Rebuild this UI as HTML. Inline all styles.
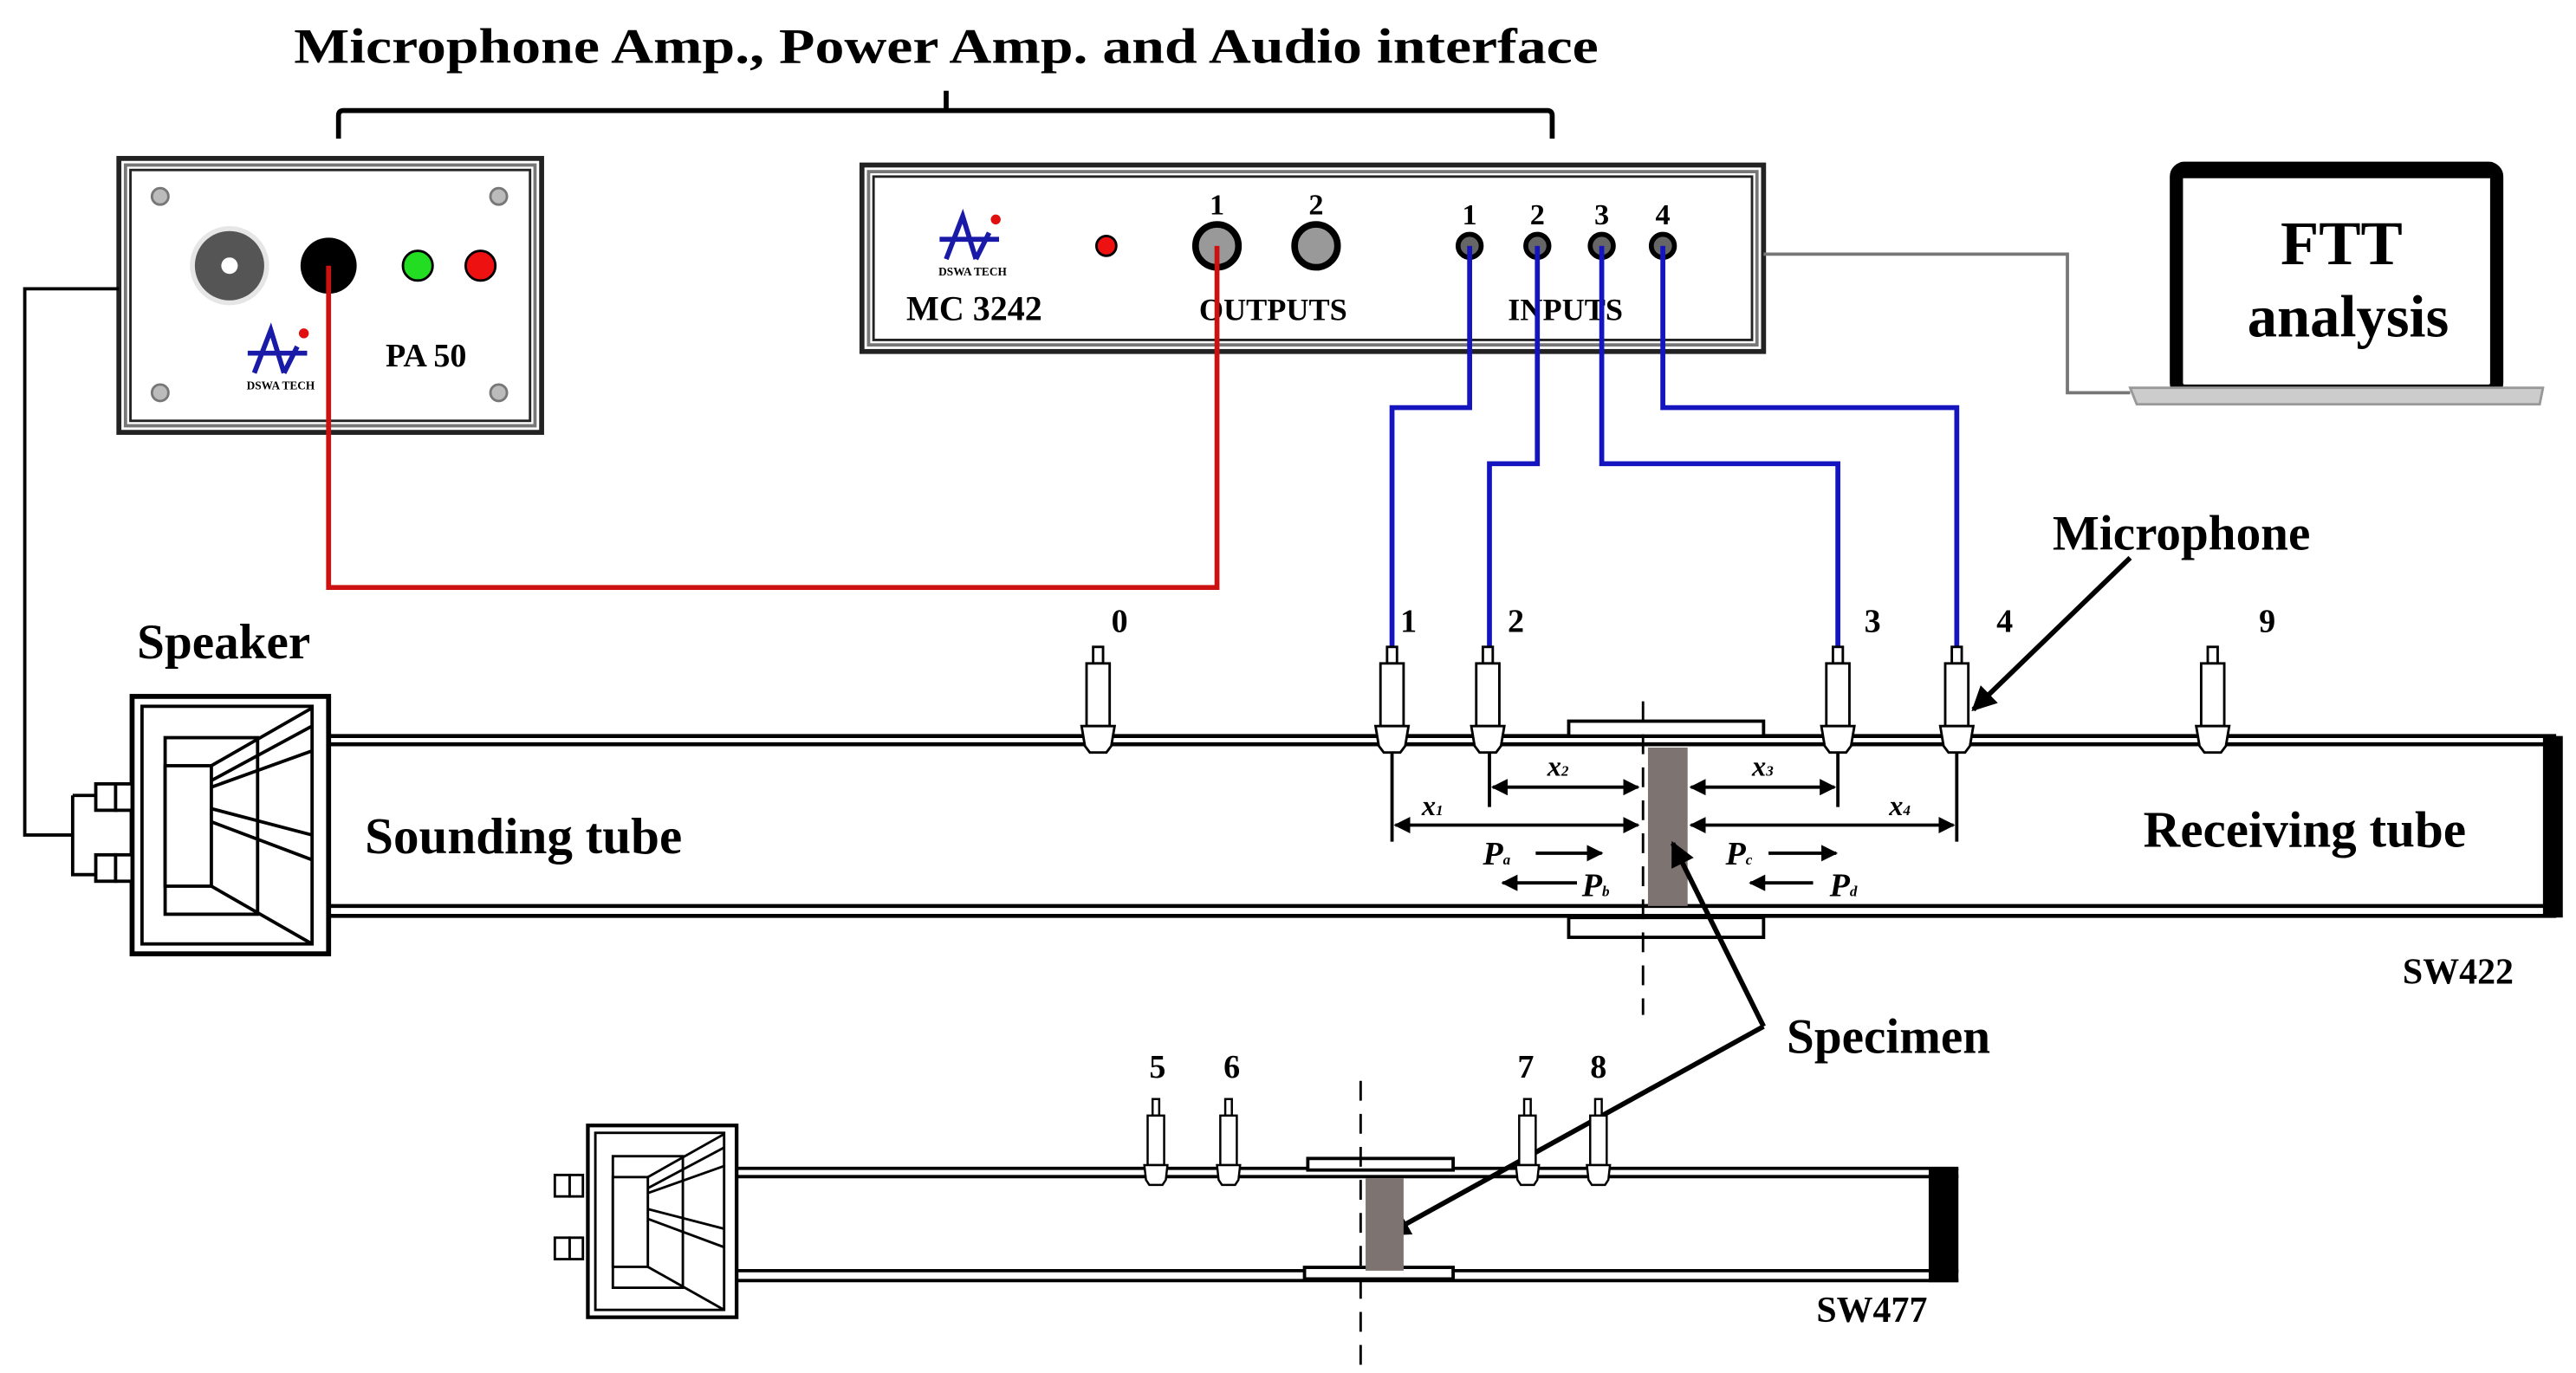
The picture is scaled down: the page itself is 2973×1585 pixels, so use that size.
<!DOCTYPE html>
<html><head><meta charset="utf-8"><style>
html,body{margin:0;padding:0;background:#fff}
svg{display:block}
text{font-family:"Liberation Serif",serif;font-weight:bold;fill:#000}
</style></head><body>
<svg width="2973" height="1585" viewBox="0 0 1560 832" preserveAspectRatio="none" xmlns="http://www.w3.org/2000/svg">
<defs>
<marker id="ah" viewBox="0 0 10 10" refX="9" refY="5" markerWidth="5" markerHeight="5" orient="auto-start-reverse"><path d="M0,0 L10,5 L0,10 z" fill="#000"/></marker>
<g id="spk">
<rect x="80" y="422" width="119" height="156" fill="#fff" stroke="#000" stroke-width="3"/>
<rect x="86" y="428" width="103" height="144" fill="none" stroke="#000" stroke-width="2"/>
<rect x="100" y="447" width="56" height="107" fill="none" stroke="#000" stroke-width="2"/>
<rect x="100" y="464" width="28" height="73" fill="#fff" stroke="#000" stroke-width="2"/>
<path d="M128,464 L189,429 M128,473 L189,440 M128,477 L189,455 M128,490 L189,506 M128,498 L189,521 M128,537 L189,572" stroke="#000" stroke-width="2" fill="none"/>
</g>
<g id="mic">
<rect x="-3" y="-48" width="6" height="10" fill="#fff" stroke="#000" stroke-width="1.5"/>
<rect x="-7" y="-38" width="14" height="38" fill="#fff" stroke="#000" stroke-width="1.5"/>
<path d="M-10,0 L10,0 L8,12 L5,16 L-5,16 L-8,12 z" fill="#fff" stroke="#000" stroke-width="1.5"/>
</g>
<g id="micS">
<rect x="-2" y="-40" width="4" height="10" fill="#fff" stroke="#000" stroke-width="1.3"/>
<rect x="-5" y="-30" width="10" height="30" fill="#fff" stroke="#000" stroke-width="1.3"/>
<path d="M-7,0 L7,0 L6,9 L4,12 L-4,12 L-6,9 z" fill="#fff" stroke="#000" stroke-width="1.3"/>
</g>
<g id="logo">
<path d="M-16,14 L-6,-12 L2,14 M-20,2 L16,2" stroke="#1a1aa8" stroke-width="3" fill="none"/>
<path d="M2,14 L10,-2" stroke="#1a1aa8" stroke-width="3" fill="none"/>
<circle cx="14" cy="-10" r="3" fill="#e01010"/>
<text x="0" y="24" font-size="7" text-anchor="middle">DSWA TECH</text>
</g>
</defs>

<text x="573" y="38" font-size="30" text-anchor="middle" textLength="790" lengthAdjust="spacingAndGlyphs">Microphone Amp., Power Amp. and Audio interface</text>
<path d="M205,84 L205,70 Q205,67 208,67 L937,67 Q940,67 940,70 L940,84 M573,67 L573,55" stroke="#000" stroke-width="3" fill="none"/>

<rect x="72" y="96" width="256" height="166" fill="#fff" stroke="#222" stroke-width="3"/>
<rect x="76" y="100" width="248" height="158" fill="none" stroke="#777" stroke-width="2"/>
<rect x="79" y="103" width="242" height="152" fill="none" stroke="#222" stroke-width="1.5"/>
<g fill="#bbb" stroke="#777" stroke-width="1.5"><circle cx="97" cy="119" r="5"/><circle cx="302" cy="119" r="5"/><circle cx="97" cy="238" r="5"/><circle cx="302" cy="238" r="5"/></g>
<circle cx="139" cy="161" r="24" fill="#e6e6e6"/>
<circle cx="139" cy="161" r="21" fill="#555"/>
<circle cx="139" cy="161" r="5" fill="#fff"/>
<circle cx="199" cy="161" r="17" fill="#000"/>
<circle cx="253" cy="161" r="9" fill="#22dd22" stroke="#000" stroke-width="1.5"/>
<circle cx="291" cy="161" r="9" fill="#ee1111" stroke="#000" stroke-width="1.5"/>
<use href="#logo" transform="translate(170,212)"/>
<text x="258" y="222" font-size="20" text-anchor="middle">PA 50</text>

<rect x="522" y="100" width="546" height="113" fill="#fff" stroke="#222" stroke-width="3"/>
<rect x="526" y="104" width="538" height="105" fill="none" stroke="#777" stroke-width="2"/>
<rect x="529" y="107" width="532" height="99" fill="none" stroke="#222" stroke-width="1.5"/>
<use href="#logo" transform="translate(589,143)"/>
<circle cx="670" cy="149" r="6" fill="#ee1111" stroke="#000" stroke-width="1.5"/>
<circle cx="737" cy="149" r="13" fill="#999" stroke="#000" stroke-width="4"/>
<circle cx="797" cy="149" r="13" fill="#999" stroke="#000" stroke-width="4"/>
<text x="737" y="130" font-size="18" text-anchor="middle">1</text>
<text x="797" y="130" font-size="18" text-anchor="middle">2</text>
<text x="590" y="194" font-size="21" text-anchor="middle">MC 3242</text>
<text x="771" y="194" font-size="19" text-anchor="middle">OUTPUTS</text>
<text x="948" y="194" font-size="19" text-anchor="middle">INPUTS</text>
<g fill="#666" stroke="#000" stroke-width="3"><circle cx="890" cy="149" r="7"/><circle cx="931" cy="149" r="7"/><circle cx="970" cy="149" r="7"/><circle cx="1007" cy="149" r="7"/></g>
<g font-size="18" text-anchor="middle"><text x="890" y="136">1</text><text x="931" y="136">2</text><text x="970" y="136">3</text><text x="1007" y="136">4</text></g>

<path d="M1068,154 L1252,154 L1252,238 L1290,238" stroke="#777" stroke-width="2" fill="none"/>
<rect x="1318" y="102" width="194" height="135" rx="5" fill="#fff" stroke="#000" stroke-width="8"/>
<rect x="1318" y="98" width="194" height="10" rx="4" fill="#000"/>
<path d="M1290,235 L1540,235 L1538,245 L1294,245 z" fill="#ccc" stroke="#999" stroke-width="1.5"/>
<text x="1418" y="160" font-size="38" text-anchor="middle">FTT</text>
<text x="1422" y="204" font-size="36" text-anchor="middle">analysis</text>

<path d="M199,161 L199,356 L737,356 L737,149" stroke="#cc1111" stroke-width="3" fill="none"/>
<g stroke="#1515c0" stroke-width="3" fill="none">
<path d="M890,149 L890,247 L843,247 L843,393"/>
<path d="M931,149 L931,281 L902,281 L902,393"/>
<path d="M970,149 L970,281 L1113,281 L1113,393"/>
<path d="M1007,149 L1007,247 L1185,247 L1185,393"/>
</g>
<path d="M72,175 L15,175 L15,506 L44,506" stroke="#000" stroke-width="2" fill="none"/>

<path d="M199,446 L1548,446 M199,451 L1545,451 M199,549 L1545,549 M199,555 L1548,555" stroke="#000" stroke-width="2.4" fill="none"/>
<rect x="1540" y="446" width="12" height="110" fill="#000"/>
<use href="#spk"/>
<path d="M44,482 L44,530 L58,530 M44,482 L58,482" stroke="#000" stroke-width="2" fill="none"/>
<rect x="58" y="475" width="12" height="16" fill="#fff" stroke="#000" stroke-width="2"/>
<rect x="70" y="475" width="10" height="16" fill="#fff" stroke="#000" stroke-width="2"/>
<rect x="58" y="518" width="12" height="16" fill="#fff" stroke="#000" stroke-width="2"/>
<rect x="70" y="518" width="10" height="16" fill="#fff" stroke="#000" stroke-width="2"/>

<rect x="950" y="437" width="118" height="9" fill="#fff" stroke="#000" stroke-width="2"/>
<rect x="950" y="556" width="118" height="12" fill="#fff" stroke="#000" stroke-width="2"/>
<rect x="998" y="453" width="24" height="96" fill="#7d7370"/>
<path d="M995,425 L995,615" stroke="#000" stroke-width="1.5" stroke-dasharray="12,8" fill="none"/>

<use href="#mic" transform="translate(665,440)"/>
<use href="#mic" transform="translate(843,440)"/>
<use href="#mic" transform="translate(901,440)"/>
<use href="#mic" transform="translate(1113,440)"/>
<use href="#mic" transform="translate(1185,440)"/>
<use href="#mic" transform="translate(1340,440)"/>
<g font-size="20" text-anchor="middle"><text x="678" y="383">0</text><text x="853" y="383">1</text><text x="918" y="383">2</text><text x="1134" y="383">3</text><text x="1214" y="383">4</text><text x="1373" y="383">9</text></g>

<g stroke="#000" stroke-width="2" fill="none">
<path d="M843,456 L843,510 M902,456 L902,489 M1113,456 L1113,489 M1185,456 L1185,510"/>
<path d="M904,477 L992,477" marker-start="url(#ah)" marker-end="url(#ah)"/>
<path d="M845,500 L992,500" marker-start="url(#ah)" marker-end="url(#ah)"/>
<path d="M1024,477 L1111,477" marker-start="url(#ah)" marker-end="url(#ah)"/>
<path d="M1024,500 L1183,500" marker-start="url(#ah)" marker-end="url(#ah)"/>
<path d="M930,517 L970,517" marker-end="url(#ah)"/>
<path d="M955,535 L910,535" marker-end="url(#ah)"/>
<path d="M1071,517 L1112,517" marker-end="url(#ah)"/>
<path d="M1098,535 L1060,535" marker-end="url(#ah)"/>
</g>
<g font-style="italic" font-size="17"><text x="937" y="470">x<tspan font-size="9">2</tspan></text><text x="861" y="494">x<tspan font-size="9">1</tspan></text><text x="1061" y="470">x<tspan font-size="9">3</tspan></text><text x="1144" y="494">x<tspan font-size="9">4</tspan></text>
<text x="898" y="524" font-size="20">P<tspan font-size="9">a</tspan></text><text x="958" y="543" font-size="20">P<tspan font-size="9">b</tspan></text>
<text x="1045" y="524" font-size="20">P<tspan font-size="9">c</tspan></text><text x="1108" y="543" font-size="20">P<tspan font-size="9">d</tspan></text></g>

<text x="83" y="399" font-size="30">Speaker</text>
<text x="221" y="517" font-size="31">Sounding tube</text>
<text x="1298" y="513" font-size="31">Receiving tube</text>
<text x="1243" y="333" font-size="30">Microphone</text>
<path d="M1290,338 L1195,430" stroke="#000" stroke-width="3" marker-end="url(#ah)" fill="none"/>
<text x="1455" y="596" font-size="22">SW422</text>
<text x="1082" y="638" font-size="30">Specimen</text>
<path d="M1068,622 L1013,511" stroke="#000" stroke-width="3" marker-end="url(#ah)" fill="none"/>
<path d="M1068,622 L840,748" stroke="#000" stroke-width="3" marker-end="url(#ah)" fill="none"/>

<path d="M446,708 L1186,708 M446,713 L1186,713 M446,770 L1186,770 M446,776 L1186,776" stroke="#000" stroke-width="2" fill="none"/>
<rect x="1168" y="708" width="18" height="69" fill="#000"/>
<use href="#spk" transform="translate(356,682) scale(0.757,0.745) translate(-80,-422)"/>
<rect x="336" y="712" width="9" height="13" fill="#fff" stroke="#000" stroke-width="1.5"/>
<rect x="345" y="712" width="8" height="13" fill="#fff" stroke="#000" stroke-width="1.5"/>
<rect x="336" y="750" width="9" height="13" fill="#fff" stroke="#000" stroke-width="1.5"/>
<rect x="345" y="750" width="8" height="13" fill="#fff" stroke="#000" stroke-width="1.5"/>
<rect x="792" y="702" width="88" height="7" fill="#fff" stroke="#000" stroke-width="2"/>
<rect x="790" y="768" width="90" height="7" fill="#fff" stroke="#000" stroke-width="2"/>
<rect x="827" y="714" width="23" height="56" fill="#7d7370"/>
<path d="M824,655 L824,828" stroke="#000" stroke-width="1.5" stroke-dasharray="12,8" fill="none"/>
<use href="#micS" transform="translate(700,706)"/>
<use href="#micS" transform="translate(744,706)"/>
<use href="#micS" transform="translate(925,706)"/>
<use href="#micS" transform="translate(968,706)"/>
<g font-size="20" text-anchor="middle"><text x="701" y="653">5</text><text x="746" y="653">6</text><text x="924" y="653">7</text><text x="968" y="653">8</text></g>
<text x="1100" y="801" font-size="22">SW477</text>
</svg>
</body></html>
